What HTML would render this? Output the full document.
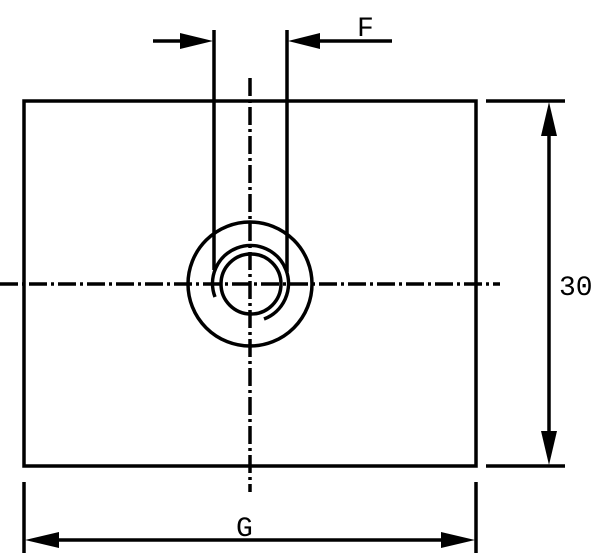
<!DOCTYPE html>
<html><head><style>body{margin:0;background:#fff}svg{display:block}</style></head>
<body>
<svg width="600" height="553" viewBox="0 0 600 553" xmlns="http://www.w3.org/2000/svg">
<g stroke="#000" stroke-width="3.5" fill="none">
<rect x="24" y="101" width="452" height="365"/>
<line x1="250" y1="78" x2="250" y2="492" stroke-dasharray="18,4,3,4"/>
<line x1="0" y1="284" x2="500" y2="284" stroke-dasharray="18,4,3,4"/>
<circle cx="250" cy="284" r="62"/>
<circle cx="251" cy="284" r="30"/>
<path d="M 215 297 A 38 38 0 1 1 264 319"/>
<line x1="214" y1="30" x2="214" y2="270"/>
<line x1="287" y1="30" x2="287" y2="272"/>
<line x1="153" y1="41" x2="200" y2="41"/>
<line x1="300" y1="41" x2="392" y2="41"/>
<line x1="486" y1="101" x2="565" y2="101"/>
<line x1="486" y1="466" x2="565" y2="466"/>
<line x1="549" y1="115" x2="549" y2="452"/>
<line x1="24" y1="482" x2="24" y2="553"/>
<line x1="476" y1="482" x2="476" y2="553"/>
<line x1="38" y1="540" x2="462" y2="540"/>
</g>
<g fill="#000">
<polygon points="213,41 180,33 180,49"/>
<polygon points="288,41 320,33 320,49"/>
<polygon points="549,102 541,136 557,136"/>
<polygon points="549,465 541,431 557,431"/>
<polygon points="25,540 59,532 59,548"/>
<polygon points="475,540 441,532 441,548"/>
</g>
<g font-family="Liberation Mono, monospace" font-size="28" fill="#000">
<text x="357" y="36">F</text>
<text x="559" y="295">30</text>
<text x="236" y="536">G</text>
</g>
</svg>
</body></html>
